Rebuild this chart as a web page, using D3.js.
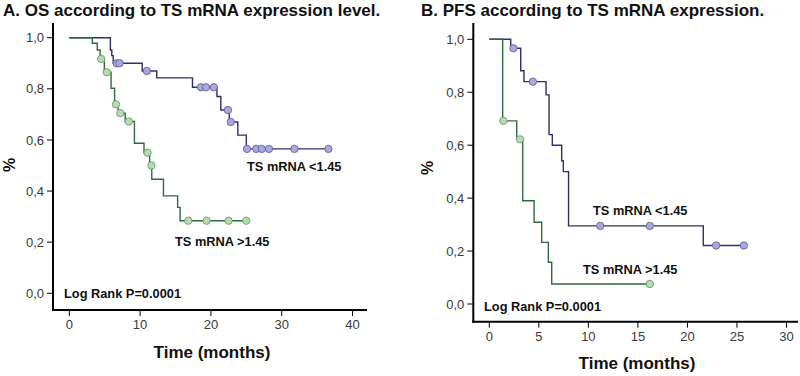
<!DOCTYPE html>
<html>
<head>
<meta charset="utf-8">
<script src="https://cdn.jsdelivr.net/npm/d3@7"></script>
<style>
  body { margin: 0; background: #fff; }
  svg text { font-family: "Liberation Sans", Arial, Helvetica, sans-serif; }
</style>
</head>
<body>
<svg id="chart" width="800" height="376"></svg>
<script>
// ---- data ----
// Panel A: overall survival
const osLowTimes = [5.8, 6.0, 6.2, 10.3, 12.35, 17.4, 20.85, 21.4, 22.6, 23.8, 25.0];
const osLowSurv  = [0.952, 0.93, 0.90, 0.87, 0.843, 0.806, 0.77, 0.717, 0.67, 0.619, 0.565];
const osLowCens  = [6.7, 7.1, 10.95, 18.6, 19.3, 20.4, 22.4, 22.8, 25.1, 26.4, 27.2, 28.2, 31.8, 36.6];

const osHighTimes = [3.25, 3.95, 4.35, 4.95, 5.9, 6.4, 6.9, 7.9, 9.2, 10.55, 11.35, 11.65, 13.3, 15.3, 15.65];
const osHighSurv  = [0.978, 0.952, 0.917, 0.865, 0.802, 0.739, 0.705, 0.672, 0.587, 0.55, 0.50, 0.446, 0.381, 0.336, 0.284];
const osHighCens  = [4.5, 5.3, 6.6, 7.2, 8.4, 11.05, 11.6, 16.8, 19.4, 22.5, 25.0];

// Panel B: progression free survival
const pfsLowTimes = [2.16, 3.17, 3.5, 5.73, 6.03, 6.36, 7.31, 7.47, 8.0, 21.6];
const pfsLowSurv  = [0.966, 0.881, 0.84, 0.79, 0.64, 0.60, 0.541, 0.50, 0.295, 0.221];
const pfsLowCens  = [2.43, 4.4, 11.2, 16.2, 22.9, 25.7];

const pfsHighTimes = [1.35, 2.77, 3.37, 4.52, 5.29, 5.96, 6.3];
const pfsHighSurv  = [0.692, 0.622, 0.39, 0.309, 0.233, 0.158, 0.0756];
const pfsHighCens  = [1.41, 3.1, 16.2];

const yTicks = [0, 0.2, 0.4, 0.6, 0.8, 1.0];
const osXTicks = [0, 10, 20, 30, 40];
const pfsXTicks = [0, 5, 10, 15, 20, 25, 30];

const lowColor = {line: "#2f2f6c", fill: "#a8a8da", stroke: "#5a5a94"};
const highColor = {line: "#2f6a3b", fill: "#b6dbb1", stroke: "#62946a"};

const svg = d3.select("#chart");

// survival value at time t from a step series
function survAt(times, surv, t) {
    let s = 1;
    times.forEach((tt, i) => { if (tt <= t) s = surv[i]; });
    return s;
}

function drawPanel(p) {
    const g = svg.append("g");
    const x = d3.scaleLinear().domain(p.xDomain).range(p.xRange);
    const y = d3.scaleLinear().domain([0, 1]).range(p.yRange);

    // title
    g.append("text")
        .attr("x", p.titleX).attr("y", 16)
        .style("font-size", "17px").style("font-weight", "bold")
        .attr("fill", "#111")
        .text(p.title);

    // axes
    g.append("line")
        .attr("x1", p.axisX).attr("x2", p.axisX)
        .attr("y1", 23).attr("y2", p.axisY + 1)
        .attr("stroke", "#000").attr("stroke-width", 2);
    g.append("line")
        .attr("x1", p.axisX - 1).attr("x2", p.axisEnd)
        .attr("y1", p.axisY).attr("y2", p.axisY)
        .attr("stroke", "#000").attr("stroke-width", 2);

    const yt = g.append("g").selectAll("g").data(yTicks).join("g")
        .attr("transform", d => `translate(0,${y(d)})`);
    yt.append("line").attr("x1", p.axisX - 6).attr("x2", p.axisX)
        .attr("stroke", "#000").attr("stroke-width", 1);
    yt.append("text").attr("x", p.axisX - 9).attr("dy", "0.35em")
        .attr("text-anchor", "end").attr("fill", "#3a3a3a")
        .style("font-size", "13px")
        .text(d => d3.format(".1f")(d).replace(".", ","));

    const xt = g.append("g").selectAll("g").data(p.xTicks).join("g")
        .attr("transform", d => `translate(${x(d)},0)`);
    xt.append("line").attr("y1", p.axisY).attr("y2", p.axisY + 6)
        .attr("stroke", "#000").attr("stroke-width", 1);
    xt.append("text").attr("y", p.axisY + 19)
        .attr("text-anchor", "middle").attr("fill", "#3a3a3a")
        .style("font-size", "13px")
        .text(d => d);

    // axis titles
    g.append("text")
        .attr("transform", `translate(${p.pctX},${p.pctY}) rotate(-90)`)
        .attr("text-anchor", "middle")
        .style("font-size", "16px").style("font-weight", "bold").attr("fill", "#111")
        .text("%");
    g.append("text")
        .attr("x", p.timeX).attr("y", p.timeY)
        .attr("text-anchor", "middle")
        .style("font-size", "17px").style("font-weight", "bold").attr("fill", "#111")
        .text("Time (months)");

    // curves
    const line = d3.line().x(d => x(d[0])).y(d => y(d[1])).curve(d3.curveStepAfter);
    p.series.forEach(s => {
        const lastT = Math.max(d3.max(s.cens), d3.max(s.times));
        const pts = [[0, 1]].concat(s.times.map((t, i) => [t, s.surv[i]]));
        pts.push([lastT, survAt(s.times, s.surv, lastT)]);
        g.append("path")
            .attr("d", line(pts))
            .attr("fill", "none")
            .attr("stroke", s.color.line)
            .attr("stroke-width", 1.4);
        g.append("g").selectAll("circle").data(s.cens).join("circle")
            .attr("cx", d => x(d))
            .attr("cy", d => y(survAt(s.times, s.surv, d)))
            .attr("r", 3.7)
            .attr("fill", s.color.fill)
            .attr("stroke", s.color.stroke)
            .attr("stroke-width", 0.8);
        g.append("text")
            .attr("x", s.labelX).attr("y", s.labelY)
            .style("font-size", "12.8px").style("font-weight", "bold").attr("fill", "#111")
            .text(s.label);
    });

    g.append("text")
        .attr("x", p.logX).attr("y", p.logY)
        .style("font-size", "12.8px").style("font-weight", "bold").attr("fill", "#111")
        .text("Log Rank P=0.0001");
}

drawPanel({
    title: "A. OS according to TS mRNA expression level.", titleX: 3,
    xDomain: [0, 40], xRange: [69.3, 352.5], yRange: [293.3, 37.7],
    axisX: 53, axisY: 310, axisEnd: 367, xTicks: osXTicks,
    pctX: 15, pctY: 165, timeX: 212, timeY: 358,
    logX: 64, logY: 298,
    series: [
        {times: osLowTimes, surv: osLowSurv, cens: osLowCens, color: lowColor,
         label: "TS mRNA <1.45", labelX: 247, labelY: 171},
        {times: osHighTimes, surv: osHighSurv, cens: osHighCens, color: highColor,
         label: "TS mRNA >1.45", labelX: 175, labelY: 246}
    ]
});

drawPanel({
    title: "B. PFS according to TS mRNA expression.", titleX: 421,
    xDomain: [0, 30], xRange: [489.3, 786.5], yRange: [304, 39.3],
    axisX: 473.3, axisY: 321.7, axisEnd: 798, xTicks: pfsXTicks,
    pctX: 433, pctY: 168, timeX: 637, timeY: 369,
    logX: 484, logY: 311,
    series: [
        {times: pfsLowTimes, surv: pfsLowSurv, cens: pfsLowCens, color: lowColor,
         label: "TS mRNA <1.45", labelX: 593, labelY: 215},
        {times: pfsHighTimes, surv: pfsHighSurv, cens: pfsHighCens, color: highColor,
         label: "TS mRNA >1.45", labelX: 583, labelY: 274}
    ]
});
</script>
</body>
</html>
